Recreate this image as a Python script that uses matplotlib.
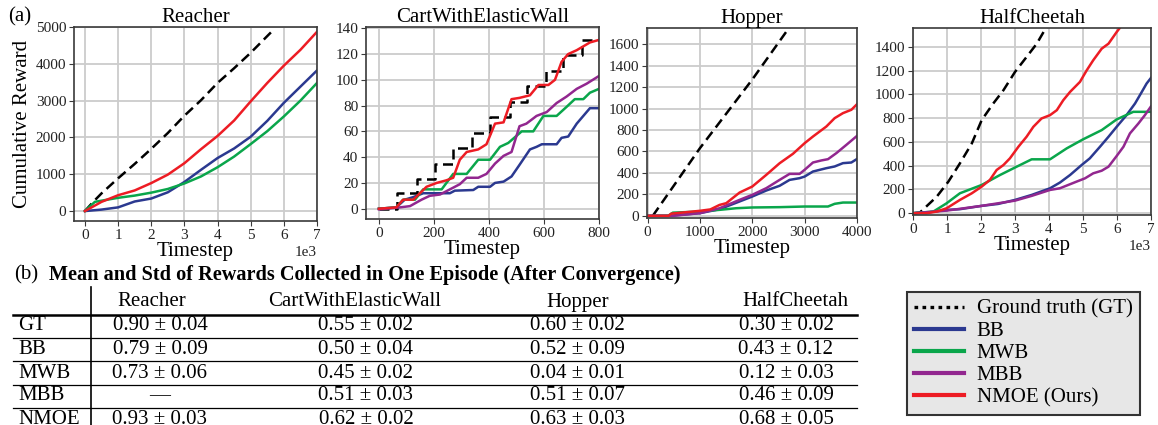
import matplotlib.pyplot as plt
from matplotlib.lines import Line2D

plt.rcParams['font.family'] = ['Liberation Serif', 'DejaVu Serif']

W, H = 1158, 425

C_GT = 'black'
C_BB = '#2b3990'
C_MWB = '#0aa64b'
C_MBB = '#92278f'
C_NMOE = '#ed1c24'

# ---- Reacher (timestep in units, shown as 1e3) ----
reacher_gt_x = [0, 250, 500, 1000, 1500, 2000, 2500, 3000, 3500, 4000, 4500, 5000, 5650]
reacher_gt_y = [0, 250, 480, 890, 1280, 1690, 2120, 2590, 3010, 3480, 3880, 4300, 4890]
reacher_bb_x = [0, 500, 1000, 1500, 2000, 2500, 3000, 3500, 4000, 4500, 5000, 5500, 6000, 6500, 7000]
reacher_bb_y = [0, 40, 100, 260, 340, 510, 790, 1120, 1440, 1700, 2020, 2450, 2940, 3380, 3820]
reacher_mwb_x = [0, 300, 1000, 1500, 2000, 2500, 3000, 3500, 4000, 4500, 5000, 5500, 6000, 6500, 7000]
reacher_mwb_y = [0, 250, 360, 420, 500, 600, 750, 940, 1190, 1480, 1820, 2170, 2570, 3000, 3480]
reacher_nmoe_x = [0, 500, 1000, 1500, 2000, 2500, 3000, 3500, 4000, 4500, 5000, 5500, 6000, 6500, 7000]
reacher_nmoe_y = [0, 250, 430, 560, 760, 990, 1300, 1680, 2040, 2460, 2980, 3480, 3950, 4380, 4870]

# ---- CartWithElasticWall ----
cart_gt_x = [0, 67, 137, 204, 270, 337, 404, 476, 540, 606, 670, 740, 800]
cart_gt_y = [0, 12, 23, 35, 47, 59, 71, 83, 95, 107, 119, 131, 131]
cart_bb_x = [0, 63, 94, 125, 161, 258, 276, 343, 361, 404, 422, 453, 482, 511, 549, 573,
             592, 646, 664, 688, 719, 767, 800]
cart_bb_y = [0, 1, 7, 9, 12, 12, 14, 14.5, 17, 17, 20, 21, 25, 34, 46, 48,
             50, 50, 55, 56, 66, 78, 78]
cart_mwb_x = [0, 63, 88, 131, 161, 228, 270, 319, 361, 404, 440, 470, 519, 561, 598, 646,
              682, 712, 743, 767, 800]
cart_mwb_y = [0, 1, 7, 7, 15, 15, 27, 27, 38, 38, 48, 51, 60, 60, 72, 72,
              79, 85, 85, 90, 93]
cart_mbb_x = [0, 76, 113, 155, 185, 222, 258, 294, 319, 361, 391, 422, 453, 482, 511, 536,
              573, 610, 646, 682, 719, 755, 800]
cart_mbb_y = [-0.5, 1, 2, 7, 10, 11, 15, 19, 24, 24, 27, 35, 41, 44, 64, 66,
              72, 75, 82, 87, 93, 97, 103]
cart_nmoe_x = [0, 63, 88, 125, 173, 210, 245, 270, 294, 319, 361, 391, 422, 453, 482, 511,
               549, 580, 616, 640, 664, 688, 719, 743, 767, 800]
cart_nmoe_y = [0, 1, 7, 7, 17, 20, 22, 24, 38, 44, 46, 50, 66, 67, 85, 86,
               88, 96, 96, 100, 114, 120, 123, 126, 129, 131]

# ---- Hopper ----
hopper_gt_x = [100, 1000, 2000, 2700, 2800]
hopper_gt_y = [0, 630, 1270, 1750, 1820]
hopper_bb_x = [0, 400, 1000, 1376, 1758, 2000, 2268, 2522, 2713, 2904, 3000, 3159, 3414, 3573,
               3732, 3892, 4000]
hopper_bb_y = [0, 0, 25, 62, 134, 180, 236, 280, 335, 351, 366, 413, 444, 460,
               491, 497, 530]
hopper_mwb_x = [0, 400, 484, 1000, 1376, 1694, 2000, 2522, 3000, 3446, 3573, 3732, 4000]
hopper_mwb_y = [0, 2, 30, 40, 56, 71, 78, 81, 87, 87, 112, 124, 124]
hopper_mbb_x = [0, 480, 1000, 1376, 1758, 2000, 2268, 2522, 2713, 2904, 3000, 3159, 3318, 3446,
                3605, 3796, 4000]
hopper_mbb_y = [0, 0, 25, 71, 149, 196, 258, 335, 391, 391, 429, 497, 516, 528,
                584, 661, 745]
hopper_nmoe_x = [0, 400, 450, 1000, 1200, 1376, 1503, 1758, 2000, 2268, 2522, 2777, 3000, 3159,
                 3414, 3573, 3732, 3892, 4000]
hopper_nmoe_y = [0, 0, 20, 47, 60, 102, 118, 217, 273, 382, 490, 578, 677, 739,
                 832, 910, 957, 988, 1040]

# ---- HalfCheetah ----
cheetah_gt_x = [0, 200, 700, 1040, 1380, 1730, 2020, 2360, 2660, 3000, 3340, 3640, 3880, 4100]
cheetah_gt_y = [0, 5, 140, 266, 420, 588, 784, 924, 1036, 1190, 1316, 1428, 1546, 1620]
cheetah_bb_x = [0, 400, 990, 1380, 2020, 2500, 3000, 3490, 4030, 4320, 4620, 4960, 5200, 5500,
                5750, 5990, 6280, 6530, 6730, 6870, 7000]
cheetah_bb_y = [0, 5, 28, 34, 62, 78, 112, 154, 210, 258, 322, 406, 462, 560,
                644, 728, 826, 924, 1022, 1092, 1140]
cheetah_mwb_x = [0, 600, 990, 1380, 2020, 2560, 3050, 3490, 4030, 4520, 5000, 5550, 5990, 6480, 7000]
cheetah_mwb_y = [0, 14, 84, 168, 238, 322, 392, 454, 454, 546, 622, 700, 790, 854, 854]
cheetah_mbb_x = [0, 990, 2020, 3000, 3490, 4030, 4320, 4810, 5060, 5300, 5550, 5750, 5990, 6190,
                 6380, 6630, 6820, 7000]
cheetah_mbb_y = [0, 22, 62, 106, 146, 196, 210, 266, 294, 336, 358, 392, 482, 560,
                 672, 756, 826, 900]
cheetah_nmoe_x = [0, 400, 700, 990, 1380, 1730, 2020, 2260, 2460, 2660, 2850, 3100, 3340, 3540,
                  3780, 4030, 4230, 4420, 4620, 4910, 5110, 5300, 5550, 5750, 5990, 6140, 6300]
cheetah_nmoe_y = [0, 0, 14, 42, 112, 168, 224, 280, 364, 406, 462, 560, 644, 728,
                  798, 826, 868, 952, 1022, 1106, 1204, 1288, 1386, 1428, 1526, 1582, 1650]

# ---- table ----
envs = ['Reacher', 'CartWithElasticWall', 'Hopper', 'HalfCheetah']
methods = ['GT', 'BB', 'MWB', 'MBB', 'NMOE']
table_vals = [
    ['0.90 \u00b1 0.04', '0.55 \u00b1 0.02', '0.60 \u00b1 0.02', '0.30 \u00b1 0.02'],
    ['0.79 \u00b1 0.09', '0.50 \u00b1 0.04', '0.52 \u00b1 0.09', '0.43 \u00b1 0.12'],
    ['0.73 \u00b1 0.06', '0.45 \u00b1 0.02', '0.04 \u00b1 0.01', '0.12 \u00b1 0.03'],
    ['\u2014', '0.51 \u00b1 0.03', '0.51 \u00b1 0.07', '0.46 \u00b1 0.09'],
    ['0.93 \u00b1 0.03', '0.62 \u00b1 0.02', '0.63 \u00b1 0.03', '0.68 \u00b1 0.05'],
]
legend_labels = ['Ground truth (GT)', 'BB', 'MWB', 'MBB', 'NMOE (Ours)']


def px_box(l, t, r, b):
    return [l / W, 1 - b / H, (r - l) / W, (b - t) / H]


def style(ax, title):
    ax.set_title(title, fontsize=15, pad=3)
    ax.grid(True, color='#cccccc', linewidth=1.3)
    ax.set_axisbelow(True)
    for s in ax.spines.values():
        s.set_color('#3a3a3a')
        s.set_linewidth(1.2)
    ax.tick_params(axis='both', labelsize=11, colors='#3a3a3a', labelcolor='#222222',
                   length=3.5, pad=2)
    ax.set_xlabel('Timestep', fontsize=15, labelpad=0)


def draw(ax, gt, bb, mwb, mbb, nmoe, gt_steps=False):
    kw = dict(drawstyle='steps-post') if gt_steps else {}
    ax.plot(gt[0], gt[1], color=C_GT, lw=1.8, ls=(0, (4, 2.2)), **kw)
    ax.plot(bb[0], bb[1], color=C_BB, lw=1.8)
    ax.plot(mwb[0], mwb[1], color=C_MWB, lw=1.8)
    if mbb is not None:
        ax.plot(mbb[0], mbb[1], color=C_MBB, lw=1.8)
    ax.plot(nmoe[0], nmoe[1], color=C_NMOE, lw=1.8)


fig = plt.figure(figsize=(W / 100, H / 100), dpi=100)

ax1 = fig.add_axes(px_box(74, 27, 317, 221))
draw(ax1, (reacher_gt_x, reacher_gt_y), (reacher_bb_x, reacher_bb_y),
     (reacher_mwb_x, reacher_mwb_y), None, (reacher_nmoe_x, reacher_nmoe_y))
style(ax1, 'Reacher')
ax1.set_xlim(-330, 7000)
ax1.set_ylim(-270, 5000)
ax1.set_xticks(range(0, 7001, 1000))
ax1.set_yticks(range(0, 5001, 1000))
ax1.ticklabel_format(axis='x', style='sci', scilimits=(3, 3))
ax1.xaxis.get_offset_text().set_fontsize(11)
ax1.set_ylabel('Cumulative Reward', fontsize=15, labelpad=3)

ax2 = fig.add_axes(px_box(366, 27, 599, 219))
draw(ax2, (cart_gt_x, cart_gt_y), (cart_bb_x, cart_bb_y), (cart_mwb_x, cart_mwb_y),
     (cart_mbb_x, cart_mbb_y), (cart_nmoe_x, cart_nmoe_y), gt_steps=True)
style(ax2, 'CartWithElasticWall')
ax2.set_xlim(-47, 800)
ax2.set_ylim(-8, 141)
ax2.set_xticks(range(0, 801, 200))
ax2.set_yticks(range(0, 141, 20))

ax3 = fig.add_axes(px_box(647, 28, 857, 218))
draw(ax3, (hopper_gt_x, hopper_gt_y), (hopper_bb_x, hopper_bb_y), (hopper_mwb_x, hopper_mwb_y),
     (hopper_mbb_x, hopper_mbb_y), (hopper_nmoe_x, hopper_nmoe_y))
style(ax3, 'Hopper')
ax3.set_xlim(-10, 4000)
ax3.set_ylim(-20, 1750)
ax3.set_xticks(range(0, 4001, 1000))
ax3.set_yticks(range(0, 1601, 200))

ax4 = fig.add_axes(px_box(913, 28, 1151, 215))
draw(ax4, (cheetah_gt_x, cheetah_gt_y), (cheetah_bb_x, cheetah_bb_y),
     (cheetah_mwb_x, cheetah_mwb_y), (cheetah_mbb_x, cheetah_mbb_y),
     (cheetah_nmoe_x, cheetah_nmoe_y))
style(ax4, 'HalfCheetah')
ax4.set_xlim(0, 7000)
ax4.set_ylim(-15, 1560)
ax4.set_xticks(range(0, 7001, 1000))
ax4.set_yticks(range(0, 1401, 200))
ax4.ticklabel_format(axis='x', style='sci', scilimits=(3, 3))
ax4.xaxis.get_offset_text().set_fontsize(11)

# overlay axes in pixel coordinates for labels and the table
ov = fig.add_axes([0, 0, 1, 1])
ov.set_xlim(0, W)
ov.set_ylim(H, 0)
ov.axis('off')
ov.patch.set_alpha(0)

ov.text(8, 17, '(a)', fontsize=15, va='center', ha='left')
ov.text(14, 275, '(b)', fontsize=15, va='center', ha='left')
ov.text(49, 275, 'Mean and Std of Rewards Collected in One Episode (After Convergence)',
        fontsize=14.6, fontweight='bold', va='center', ha='left')

head_x = [152, 355, 578, 795]
val_x = [160, 366, 577, 786]
row_y = [326, 350, 373, 396, 419]
for name, hx in zip(envs, head_x):
    ov.text(hx, 302, name, fontsize=15, ha='center', va='center')
for i, (m, ry) in enumerate(zip(methods, row_y)):
    ov.text(18, ry, m, fontsize=15, ha='left', va='center')
    for j, vx in enumerate(val_x):
        ov.text(vx, ry, table_vals[i][j], fontsize=15, ha='center', va='center')

ov.plot([13, 857], [315, 315], color='black', lw=1.8)
for ly in [338, 361, 385, 408]:
    ov.plot([13, 857], [ly, ly], color='black', lw=0.9)
ov.plot([91, 91], [287, 430], color='black', lw=1.2)

handles = [
    Line2D([], [], color=C_GT, lw=2.4, ls=(0, (1.1, 1.3))),
    Line2D([], [], color=C_BB, lw=3),
    Line2D([], [], color=C_MWB, lw=3),
    Line2D([], [], color=C_MBB, lw=3),
    Line2D([], [], color=C_NMOE, lw=3),
]
leg = fig.legend(handles, legend_labels, loc='upper left',
                 bbox_to_anchor=(907 / W, 1 - 292 / H), fontsize=15,
                 frameon=True, fancybox=False, framealpha=1, facecolor='#e7e7e7',
                 edgecolor='#333333', handlelength=2.4, handletextpad=0.6,
                 labelspacing=0.12, borderpad=0.35, borderaxespad=0)
leg.get_frame().set_linewidth(1.5)

fig.savefig('out.png', dpi=100)
